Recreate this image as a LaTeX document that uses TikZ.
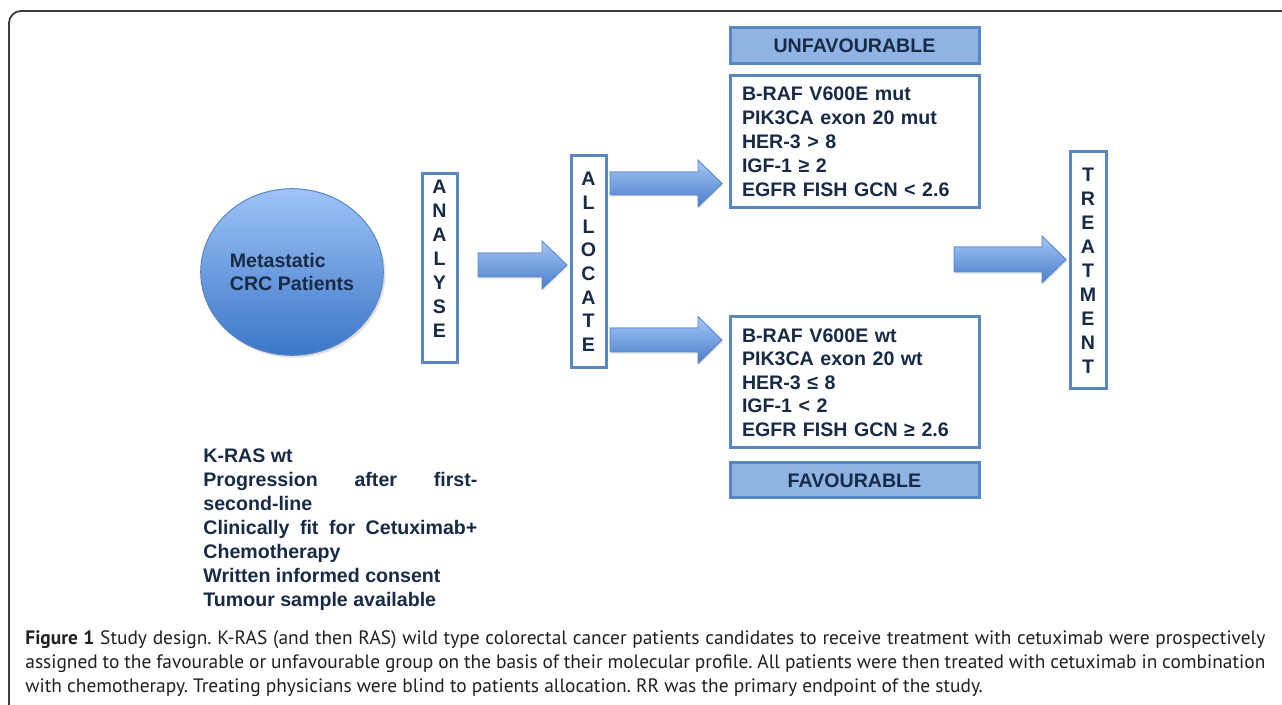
\documentclass[tikz,border=0pt]{standalone}
\usepackage{fontspec}
\setmainfont{Liberation Sans}
\newfontfamily\capfont{PT Sans}
\usetikzlibrary{shapes.geometric,shadows}
\definecolor{txt}{HTML}{172A46}
\definecolor{bord}{HTML}{5A87C4}
\definecolor{lab}{HTML}{8FB4E3}
\definecolor{atop}{HTML}{A4C6F5}
\definecolor{abot}{HTML}{4A7ECB}
\definecolor{ctop}{HTML}{9EC3F7}
\definecolor{cbot}{HTML}{3B76C7}
\definecolor{framec}{HTML}{3C3C3C}
\definecolor{capc}{HTML}{231F20}
\frenchspacing
\newcommand\blockarrow[6]{%
  \filldraw[arrowsty] (#1,#4-#5) -- (#2,#4-#5) -- (#2,#4-#6) -- (#3,#4) -- (#2,#4+#6) -- (#2,#4+#5) -- (#1,#4+#5) -- cycle;}
\begin{document}
\begin{tikzpicture}[x=0.5pt,y=-0.5pt,
  dfont/.style={font=\bfseries\fontsize{9.8}{12}\selectfont, text=txt},
  vbox/.style={draw=bord, line width=1.5pt, inner sep=0pt, fill=white, minimum width=17.5pt, dfont, align=center},
  listbox/.style={draw=bord, line width=1.5pt, fill=white, minimum width=124.5pt, text width=112.5pt, inner xsep=6pt, inner ysep=0pt, align=left, dfont},
  labbox/.style={draw=bord, line width=1.5pt, fill=lab, minimum width=124.5pt, minimum height=18pt, inner sep=0pt, dfont},
  arrowsty/.style={top color=atop, bottom color=abot, draw=bord, line width=0.4pt, drop shadow={opacity=0.2, shadow xshift=0.6pt, shadow yshift=-0.8pt}},
  capsty/.style={font=\capfont\fontsize{9.7}{12}\selectfont\frenchspacing, text=capc, inner sep=0pt, anchor=base west}
]
\useasboundingbox (0,0) rectangle (1282,705);
\clip (0,0) rectangle (1282,705);
\fill[white] (0,0) rectangle (1282,705);
\draw[framec, line width=0.9pt, rounded corners=6pt] (9,11) rectangle (1330,760);

% patients circle
\node (pat) [ellipse, minimum width=91.3pt, minimum height=83.3pt, inner sep=0pt, top color=ctop, bottom color=cbot, draw=bord, line width=0.5pt, drop shadow={opacity=0.25, shadow xshift=1pt, shadow yshift=-1.2pt}, dfont, font=\bfseries\fontsize{9.8}{11.5}\selectfont, align=left] at (292,272) {Metastatic\\CRC Patients};

% vertical boxes
\node (analyse) [vbox, minimum height=94.5pt, font=\bfseries\fontsize{9.8}{12}\selectfont] at (439.5,268.5) {A\\N\\A\\L\\Y\\S\\E\rule[-9.7pt]{0pt}{0pt}};
\node (allocate) [vbox, minimum height=106pt, font=\bfseries\fontsize{9.8}{11.85}\selectfont] at (588.5,262) {A\\L\\L\\O\\C\\A\\T\\E};
\node (treat) [vbox, minimum width=18pt, minimum height=118.5pt, font=\bfseries\fontsize{9.8}{12}\selectfont] at (1088,270.5) {T\\R\\E\\A\\T\\M\\E\\N\\T};

% labels and lists
\node (unfav) [labbox] at (854.5,46) {UNFAVOURABLE};
\node (unlist) [listbox, minimum height=66pt] at (854.5,142) {B-RAF V600E mut\\PIK3CA exon 20 mut\\HER-3 > 8\\IGF-1 ≥ 2\\EGFR FISH GCN < 2.6};
\node (favlist) [listbox, minimum height=65.5pt, font=\bfseries\fontsize{9.8}{11.7}\selectfont] at (854.5,382.5) {B-RAF V600E wt\\PIK3CA exon 20 wt\\HER-3 ≤ 8\\IGF-1 < 2\\EGFR FISH GCN ≥ 2.6};
\node (fav) [labbox, minimum height=17.5pt] at (854.5,480.5) {FAVOURABLE};

% block arrows
\blockarrow{478}{542}{567}{265}{12}{24}
\blockarrow{610}{698}{722}{183.5}{11.5}{23.5}
\blockarrow{610}{698}{722}{340}{12}{23.5}
\blockarrow{954}{1042}{1066}{259.5}{12.5}{23.5}

% inclusion criteria
\node (crit) [dfont, anchor=north west, inner sep=0pt, align=left] at (203,448) {K-RAS wt\\\makebox[137pt][s]{Progression after first-}\\second-line\\\makebox[137pt][s]{Clinically fit for Cetuximab+}\\Chemotherapy\\Written informed consent\\Tumour sample available};

% caption
\node (cap1) [capsty] at (25,645) {\makebox[620pt][s]{\textbf{Figure 1} Study design. K-RAS (and then RAS) wild type colorectal cancer patients candidates to receive treatment with cetuximab were prospectively}};
\node (cap2) [capsty] at (25,669) {\makebox[620pt][s]{assigned to the favourable or unfavourable group on the basis of their molecular profile. All patients were then treated with cetuximab in combination}};
\node (cap3) [capsty] at (25,693) {with chemotherapy. Treating physicians were blind to patients allocation. RR was the primary endpoint of the study.};
\end{tikzpicture}
\end{document}
